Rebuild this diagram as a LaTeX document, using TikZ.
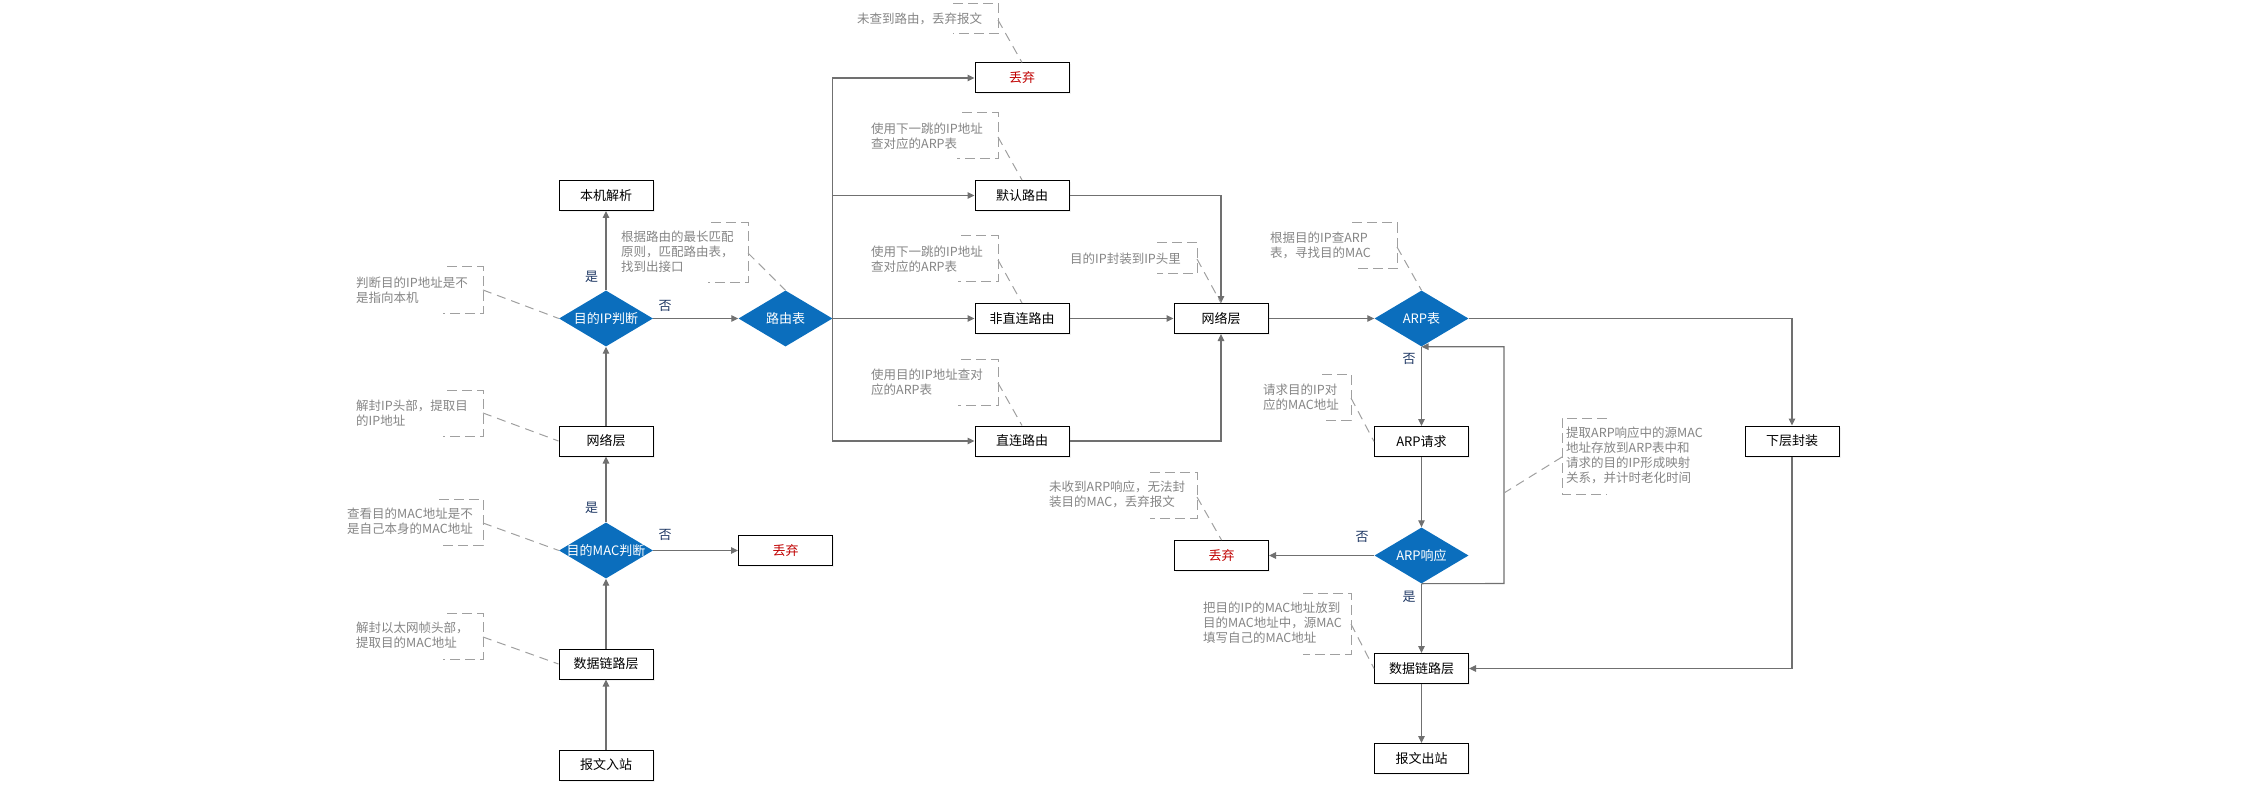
\documentclass[tikz,border=0pt]{standalone}
\usepackage{fontspec}
\setmainfont{Noto Sans CJK SC}
\usetikzlibrary{shapes.geometric,arrows.meta,shadows}
\definecolor{dblue}{HTML}{0B6EBD}
\definecolor{lgray}{HTML}{707070}
\definecolor{agray}{HTML}{858585}
\definecolor{bgray}{HTML}{A0A0A0}
\definecolor{dred}{HTML}{C00000}
\definecolor{navy}{HTML}{1F3864}
\tikzset{
  box/.style={draw=black, line width=1pt, fill=white, minimum width=94pt, minimum height=30pt, inner sep=0pt,
    font=\fontsize{13}{15}\selectfont, general shadow={fill=black!5, shadow xshift=1.5pt, shadow yshift=-1.5pt}},
  redbox/.style={box, text=dred},
  dia/.style={diamond, fill=dblue, draw=none, minimum width=94pt, minimum height=56pt, inner sep=0pt},
  dtext/.style={text=white, font=\fontsize{13}{15}\selectfont, inner sep=0pt},
  conn/.style={draw=lgray, line width=1.1pt, -{Triangle[length=7pt,width=6.5pt]}},
  note/.style={text=agray, font=\fontsize{12.5}{15}\selectfont, align=left, inner sep=0pt, anchor=west},
  brk/.style={draw=bgray, line width=1pt, dash pattern=on 10pt off 5pt},
  lead/.style={draw=bgray, line width=1pt, dash pattern=on 9pt off 6pt},
  yn/.style={text=navy, font=\fontsize{13}{15}\selectfont, inner sep=0pt}
}
\begin{document}
\begin{tikzpicture}[x=1pt,y=-1pt]
\useasboundingbox (0,0) rectangle (2245,794);
% ---------- left column
\node[box] (in1) at (606,765) {报文入站};
\node[box] (dl1) at (606,664) {数据链路层};
\node[dia, label={[dtext]center:目的MAC判断}] (mac) at (606,550.5) {};
\node[box] (nl1) at (606,441) {网络层};
\node[dia, label={[dtext]center:目的IP判断}] (ipj) at (606,318.5) {};
\node[box] (local) at (606,195.5) {本机解析};
\node[redbox] (drop1) at (785.5,550.5) {丢弃};
\node[dia, label={[dtext]center:路由表}] (rt) at (785.5,318.5) {};
% ---------- middle column
\node[redbox] (drop2) at (1022,78) {丢弃};
\node[box] (def) at (1022,195.5) {默认路由};
\node[box] (ind) at (1022,318.5) {非直连路由};
\node[box] (dir) at (1022,441) {直连路由};
\node[box] (nl2) at (1221,318.5) {网络层};
% ---------- ARP column
\node[dia, label={[dtext]center:ARP表}] (arpt) at (1421.5,318.5) {};
\node[box] (arpq) at (1421.5,441.5) {ARP请求};
\node[dia, label={[dtext]center:ARP响应}] (arpr) at (1421.5,555.5) {};
\node[redbox] (drop3) at (1221.5,555.5) {丢弃};
\node[box] (dl2) at (1421.5,668.5) {数据链路层};
\node[box] (out) at (1421.5,758.5) {报文出站};
\node[box] (low) at (1792,441) {下层封装};
% ---------- connectors
\draw[conn] (in1) -- (dl1);
\draw[conn] (dl1) -- (mac);
\draw[conn] (mac) -- (nl1);
\draw[conn] (nl1) -- (ipj);
\draw[conn] (ipj) -- (local);
\draw[conn] (mac) -- (drop1);
\draw[conn] (ipj) -- (rt);
\draw[conn] (rt.east) |- (drop2.west);
\draw[conn] (rt.east) |- (def.west);
\draw[conn] (rt.east) -- (ind.west);
\draw[conn] (rt.east) |- (dir.west);
\draw[conn] (def.east) -| (nl2.north);
\draw[conn] (dir.east) -| (nl2.south);
\draw[conn] (ind) -- (nl2);
\draw[conn] (nl2) -- (arpt);
\draw[conn] (arpt.east) -| (low.north);
\draw[conn] (low.south) |- (dl2.east);
\draw[conn] (arpt) -- (arpq);
\draw[conn] (arpq) -- (arpr);
\draw[conn] (arpr) -- (drop3);
\draw[conn] (arpr) -- (dl2);
\draw[conn] (dl2) -- (out);
\coordinate (lp) at (1504,583.5);
\draw[conn] (arpr.south) -- (lp) |- (arpt.south);
% ---------- yes/no labels
\node[yn] (y1) at (591.5,277) {是};
\node[yn] (n1) at (665,305.5) {否};
\node[yn] (y2) at (591.5,508) {是};
\node[yn] (n2) at (665,535) {否};
\node[yn] (n3) at (1409,359) {否};
\node[yn] (n4) at (1362,537) {否};
\node[yn] (y3) at (1409,597) {是};
% ---------- annotations
\node[note] (a1) at (356,290) {判断目的IP地址是不\\是指向本机};
\draw[brk] (447,267) -- (483,267) -- (483,313) -- (443,313);
\coordinate (c1) at (483,290); \draw[lead] (c1) -- (ipj.west);

\node[note] (a2) at (356,413) {解封IP头部，提取目\\的IP地址};
\draw[brk] (447,390) -- (483,390) -- (483,436) -- (443,436);
\coordinate (c2) at (483,413); \draw[lead] (c2) -- (nl1.west);

\node[note] (a3) at (347,521.5) {查看目的MAC地址是不\\是自己本身的MAC地址};
\draw[brk] (439,499) -- (483,499) -- (483,545) -- (439,545);
\coordinate (c3) at (483,523); \draw[lead] (c3) -- (mac.west);

\node[note] (a4) at (356,635.5) {解封以太网帧头部，\\提取目的MAC地址};
\draw[brk] (447,613) -- (483,613) -- (483,659) -- (443,659);
\coordinate (c4) at (483,637); \draw[lead] (c4) -- (dl1.west);

\node[note] (a5) at (621,252) {根据路由的最长匹配\\原则，匹配路由表，\\找到出接口};
\draw[brk] (711,223) -- (748,223) -- (748,283) -- (708,283);
\coordinate (c5) at (748,253); \draw[lead] (c5) -- (rt.north);

\node[note] (a6) at (857,18.5) {未查到路由，丢弃报文};
\draw[brk] (953,3.5) -- (998,3.5) -- (998,34) -- (953,34);
\coordinate (c6) at (998,20); \draw[lead] (c6) -- (drop2.north);

\node[note] (a7) at (871,136) {使用下一跳的IP地址\\查对应的ARP表};
\draw[brk] (962,113) -- (998,113) -- (998,159) -- (957,159);
\coordinate (c7) at (998,137); \draw[lead] (c7) -- (def.north);

\node[note] (a8) at (871,259.5) {使用下一跳的IP地址\\查对应的ARP表};
\draw[brk] (961,236) -- (998,236) -- (998,282) -- (958,282);
\coordinate (c8) at (998,260); \draw[lead] (c8) -- (ind.north);

\node[note] (a9) at (871,382) {使用目的IP地址查对\\应的ARP表};
\draw[brk] (961,359) -- (998,359) -- (998,405) -- (958,405);
\coordinate (c9) at (998,383); \draw[lead] (c9) -- (dir.north);

\node[note] (a10) at (1070,258.5) {目的IP封装到IP头里};
\draw[brk] (1157,243) -- (1197,243) -- (1197,274) -- (1157,274);
\coordinate (c10) at (1197,259); \draw[lead] (c10) -- (nl2.north);

\node[note] (a11) at (1270,245.5) {根据目的IP查ARP\\表，寻找目的MAC};
\draw[brk] (1352,223) -- (1397,223) -- (1397,269) -- (1357,269);
\coordinate (c11) at (1397,247); \draw[lead] (c11) -- (arpt.north);

\node[note] (a12) at (1263,397) {请求目的IP对\\应的MAC地址};
\draw[brk] (1322,374) -- (1351,374) -- (1351,420) -- (1322,420);
\coordinate (c12) at (1351,398); \draw[lead] (c12) -- (arpq.west);

\node[note] (a13) at (1049,494.5) {未收到ARP响应，无法封\\装目的MAC，丢弃报文};
\draw[brk] (1150,472) -- (1197,472) -- (1197,518) -- (1150,518);
\coordinate (c13) at (1197,497); \draw[lead] (c13) -- (drop3.north);

\node[note] (a14) at (1203,623) {把目的IP的MAC地址放到\\目的MAC地址中，源MAC\\填写自己的MAC地址};
\draw[brk] (1303,593) -- (1351,593) -- (1351,654) -- (1303,654);
\coordinate (c14) at (1351,624); \draw[lead] (c14) -- (dl2.west);

\node[note] (a15) at (1566,455.5) {提取ARP响应中的源MAC\\地址存放到ARP表中和\\请求的目的IP形成映射\\关系，并计时老化时间};
\draw[brk] (1607,418) -- (1562,418) -- (1562,494) -- (1607,494);
\coordinate (c15) at (1562,457); \coordinate (c15b) at (1504,493);
\draw[lead] (c15) -- (c15b);
\end{tikzpicture}
\end{document}
